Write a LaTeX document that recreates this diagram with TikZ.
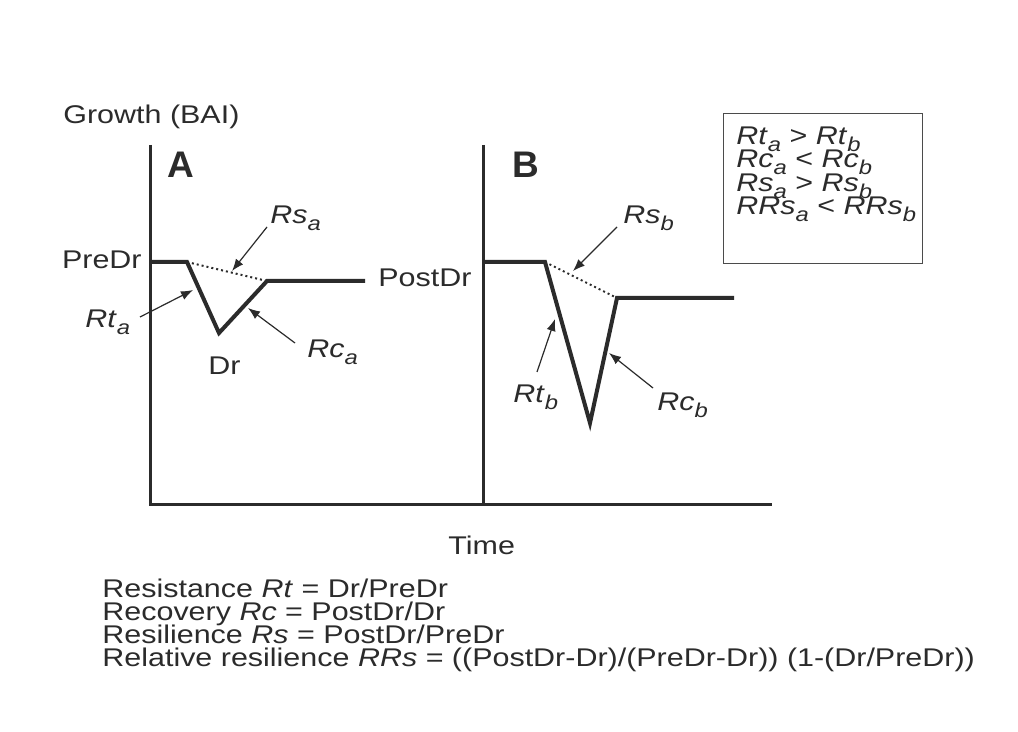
\documentclass[tikz,border=0pt]{standalone}
\usepackage{fontspec}
\setmainfont{Liberation Sans}[FakeStretch=1.19]
\newfontfamily\plainsans{Liberation Sans}
\usetikzlibrary{arrows.meta}
\definecolor{ink}{HTML}{2B2B2B}
\newcommand\sbx[1]{\raisebox{-3.4pt}{\fontsize{10}{10}\selectfont\itshape #1}}
\newcommand\lab[2]{\textit{#1}\sbx{#2}}
\begin{document}
\begin{tikzpicture}[x=0.5pt,y=-0.5pt,
  txt/.style={inner sep=0pt, font=\fontsize{12.8}{15}\selectfont, text=ink},
  bw/.style={txt, anchor=base west},
  be/.style={txt, anchor=base east},
  panel/.style={inner sep=0pt, anchor=base west, text=ink, font=\plainsans\fontsize{18.5}{20}\selectfont\bfseries},
  axis/.style={line width=1.5pt, draw=ink},
  curve/.style={line width=2pt, draw=ink, line join=miter},
  dots/.style={line width=1pt, draw=ink, dash pattern=on 1pt off 1.5pt},
  ptr/.style={-{Latex[length=6pt,width=4.6pt]}, line width=0.6pt, draw=ink}]
\useasboundingbox (0,0) rectangle (1018,732);
\fill[white] (0,0) rectangle (1018,732);

% axes
\coordinate (topA) at (150,145);
\coordinate (orig) at (150,505);
\coordinate (topB) at (483,145);
\coordinate (botB) at (483,505);
\coordinate (endX) at (772,505);
\draw[axis] (topA) -- (orig) -- (endX);
\draw[axis] (topB) -- (botB);

% panel A curve
\coordinate (a0) at (150,262);
\coordinate (a1) at (187,262);
\coordinate (a2) at (219,333);
\coordinate (a3) at (267,281);
\coordinate (a4) at (365,281);
\draw[curve] (a0) -- (a1) -- (a2) -- (a3) -- (a4);
\draw[dots] (a1) -- (a3);

% panel B curve
\coordinate (b0) at (483,262);
\coordinate (b1) at (545,262);
\coordinate (b2) at (590,423);
\coordinate (b3) at (617,298);
\coordinate (b4) at (734,298);
\draw[curve] (b0) -- (b1) -- (b2) -- (b3) -- (b4);
\draw[dots] (b1) -- (b3);

% labels
\node[bw] (growth) at (63,124) {Growth (BAI)};
\node[panel] (pA) at (167,178) {A};
\node[panel] (pB) at (512,178) {B};
\node[be] (predr) at (142,268.5) {PreDr};
\node[bw] (postdr) at (378,286.5) {PostDr};
\node[bw] (dr) at (208,375) {Dr};
\node[bw] (rsa) at (270,223.5) {\lab{Rs}{a}};
\node[bw] (rta) at (85,327.5) {\lab{Rt}{a}};
\node[bw] (rca) at (307,357.5) {\lab{Rc}{a}};
\node[bw] (rsb) at (623,223.5) {\lab{Rs}{b}};
\node[bw] (rtb) at (513,402.5) {\lab{Rt}{b}};
\node[bw] (rcb) at (657,410.5) {\lab{Rc}{b}};

% pointer arrows
\coordinate (rsaT) at (267,227); \coordinate (rsaH) at (232,271);
\coordinate (rtaT) at (140,317); \coordinate (rtaH) at (193,290);
\coordinate (rcaT) at (295,343); \coordinate (rcaH) at (248,308);
\coordinate (rsbT) at (617,227); \coordinate (rsbH) at (573,271);
\coordinate (rtbT) at (537,372); \coordinate (rtbH) at (555,319);
\coordinate (rcbT) at (653,388); \coordinate (rcbH) at (609,353);
\draw[ptr] (rsaT) -- (rsaH);
\draw[ptr] (rtaT) -- (rtaH);
\draw[ptr] (rcaT) -- (rcaH);
\draw[ptr] (rsbT) -- (rsbH);
\draw[ptr] (rtbT) -- (rtbH);
\draw[ptr] (rcbT) -- (rcbH);

% legend box
\node[draw=ink!85, line width=0.7pt, minimum width=99.5pt, minimum height=75pt,
      inner sep=0pt, anchor=north west] (legend) at (723,113) {};
\node[bw] (l1) at (736,144.5) {\lab{Rt}{a} > \lab{Rt}{b}};
\node[bw] (l2) at (736,168) {\lab{Rc}{a} < \lab{Rc}{b}};
\node[bw] (l3) at (736,191.5) {\lab{Rs}{a} > \lab{Rs}{b}};
\node[bw] (l4) at (736,215) {\lab{RRs}{a} < \lab{RRs}{b}};

% bottom text
\node[bw] (time) at (448,555) {Time};
\node[bw] (e1) at (102,597) {Resistance \textit{Rt} = Dr/PreDr};
\node[bw] (e2) at (102,620.3) {Recovery \textit{Rc} = PostDr/Dr};
\node[bw] (e3) at (102,643.6) {Resilience \textit{Rs} = PostDr/PreDr};
\node[bw] (e4) at (102,667) {Relative resilience \textit{RRs} = ((PostDr-Dr)/(PreDr-Dr)) (1-(Dr/PreDr))};
\end{tikzpicture}
\end{document}
